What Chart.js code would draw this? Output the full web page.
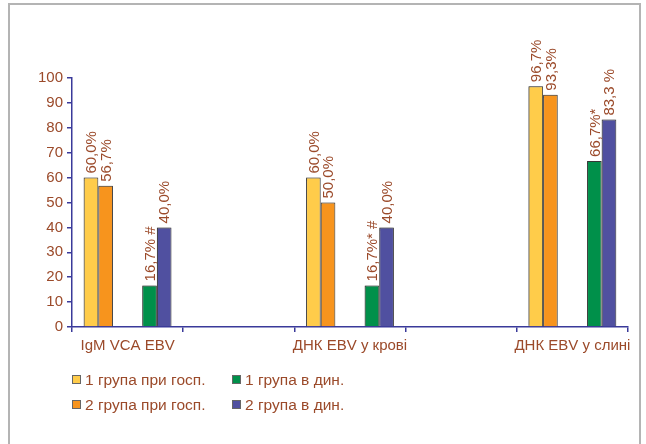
<!DOCTYPE html>
<html>
<head>
<meta charset="utf-8">
<script src="https://cdn.jsdelivr.net/npm/chart.js@4"></script>
<style>
  html, body { margin: 0; padding: 0; background: #fff; }
  #wrap { position: relative; width: 646px; height: 444px; overflow: hidden; }
  #frame { position: absolute; left: 8px; top: 3px; width: 633px; height: 470px;
           border: 2px solid #b4b4b4; box-sizing: border-box; }
  canvas { position: absolute; left: 0; top: 0; }
  .legend { position: absolute; font-family: "Liberation Sans", Arial, sans-serif;
            font-size: 15.5px; color: #9b4a2a; white-space: nowrap; }
  .legend span.box { display: inline-block; width: 9px; height: 9px; border: 1px solid #666;
            margin-right: 4px; vertical-align: 1px; box-sizing: border-box; }
</style>
</head>
<body>
<div id="wrap">
  <div id="frame"></div>
  <canvas id="c" width="646" height="444"></canvas>
  <div id="legend"></div>
</div>
<script>
// Categories on the x axis (the empty slots separate the three groups)
const categories = ["IgM VCA EBV", "", "ДНК EBV у крові", "", "ДНК EBV у слині"];
const yTicks = [0, 10, 20, 30, 40, 50, 60, 70, 80, 90, 100];

// Percent of patients per group
const group1Hosp = [60.0, null, 60.0, null, 96.7];
const group2Hosp = [56.7, null, 50.0, null, 93.3];
const group1Dyn  = [16.7, null, 16.7, null, 66.7];
const group2Dyn  = [40.0, null, 40.0, null, 83.3];

// Text written after each value (significance marks)
const suffix1Hosp = ["%", "", "%", "", "%"];
const suffix2Hosp = ["%", "", "%", "", "%"];
const suffix1Dyn  = ["% #", "", "%* #", "", "%*"];
const suffix2Dyn  = ["%", "", "%", "", " %"];

const seriesNames = ["1 група при госп.", "2 група при госп.", "1 група в дин.", "2 група в дин."];

const BROWN = "#9b4a2a";
const AXIS = "#3a3a9a";
const FONT = "'Liberation Sans', Arial, sans-serif";
const empty = categories.map(() => null);

const barStyle = { borderColor: "#3a3a3a", borderWidth: 1, borderSkipped: "start" };
const datasets = [
  { label: seriesNames[0], data: group1Hosp, backgroundColor: "#ffcc4a", suffix: suffix1Hosp, ...barStyle },
  { label: seriesNames[1], data: group2Hosp, backgroundColor: "#f7941d", suffix: suffix2Hosp, ...barStyle },
  { label: "", data: empty, backgroundColor: "transparent", spacer: true },
  { label: "", data: empty, backgroundColor: "transparent", spacer: true },
  { label: seriesNames[2], data: group1Dyn, backgroundColor: "#00904a", suffix: suffix1Dyn, ...barStyle },
  { label: seriesNames[3], data: group2Dyn, backgroundColor: "#5050a0", suffix: suffix2Dyn, ...barStyle }
];

// Soft grey halo around the bars
const barShadow = {
  id: "barShadow",
  beforeDatasetsDraw(chart) {
    const ctx = chart.ctx;
    ctx.save();
    ctx.shadowColor = "rgba(0,0,0,0.35)";
    ctx.shadowBlur = 1.5;
    ctx.shadowOffsetX = -1;
    ctx.shadowOffsetY = 0;
  },
  afterDatasetsDraw(chart) {
    chart.ctx.restore();
  }
};

// Vertical value labels above the bars
const valueLabels = {
  id: "valueLabels",
  afterDatasetsDraw(chart) {
    const ctx = chart.ctx;
    ctx.save();
    ctx.shadowColor = "transparent";
    ctx.font = "15px " + FONT;
    ctx.fillStyle = BROWN;
    ctx.textAlign = "left";
    ctx.textBaseline = "middle";
    chart.data.datasets.forEach((ds, di) => {
      if (ds.spacer) return;
      const meta = chart.getDatasetMeta(di);
      meta.data.forEach((bar, i) => {
        const v = ds.data[i];
        if (v == null) return;
        const text = v.toFixed(1).replace(".", ",") + ds.suffix[i];
        ctx.save();
        ctx.translate(bar.x + 1, bar.y - 4);
        ctx.rotate(-Math.PI / 2);
        ctx.fillText(text, 0, 0);
        ctx.restore();
      });
    });
    ctx.restore();
  }
};

new Chart(document.getElementById("c"), {
  type: "bar",
  data: { labels: categories, datasets },
  options: {
    responsive: false,
    animation: false,
    events: [],
    layout: { padding: { left: 0, top: 78, right: 18, bottom: 87 } },
    datasets: { bar: { categoryPercentage: 0.79, barPercentage: 1.0 } },
    plugins: { legend: { display: false }, tooltip: { enabled: false } },
    scales: {
      x: {
        afterFit(s) { s.height = 30; },
        grid: { offset: true, drawOnChartArea: false, drawTicks: true, tickLength: 5, color: AXIS, lineWidth: 1.5 },
        border: { color: AXIS, width: 1.5 },
        ticks: { color: BROWN, font: { family: FONT, size: 15 }, padding: 5, maxRotation: 0, autoSkip: false }
      },
      y: {
        min: 0, max: 100,
        afterFit(s) { s.width = 72; },
        afterBuildTicks(s) { s.ticks = yTicks.map(v => ({ value: v })); },
        grid: { drawOnChartArea: false, drawTicks: true, tickLength: 5, color: AXIS, lineWidth: 1.5 },
        border: { color: AXIS, width: 1.5 },
        ticks: { color: BROWN, font: { family: FONT, size: 15 }, padding: 4 }
      }
    }
  },
  plugins: [barShadow, valueLabels]
});

// Two-column legend below the chart
const legendItems = [
  { name: seriesNames[0], color: "#ffcc4a", x: 72, y: 371 },
  { name: seriesNames[1], color: "#f7941d", x: 72, y: 396 },
  { name: seriesNames[2], color: "#00904a", x: 232, y: 371 },
  { name: seriesNames[3], color: "#5050a0", x: 232, y: 396 }
];
const legendEl = document.getElementById("legend");
legendItems.forEach(it => {
  const d = document.createElement("div");
  d.className = "legend";
  d.style.left = it.x + "px";
  d.style.top = it.y + "px";
  d.innerHTML = '<span class="box" style="background:' + it.color + '"></span>' + it.name;
  legendEl.appendChild(d);
});
</script>
</body>
</html>
